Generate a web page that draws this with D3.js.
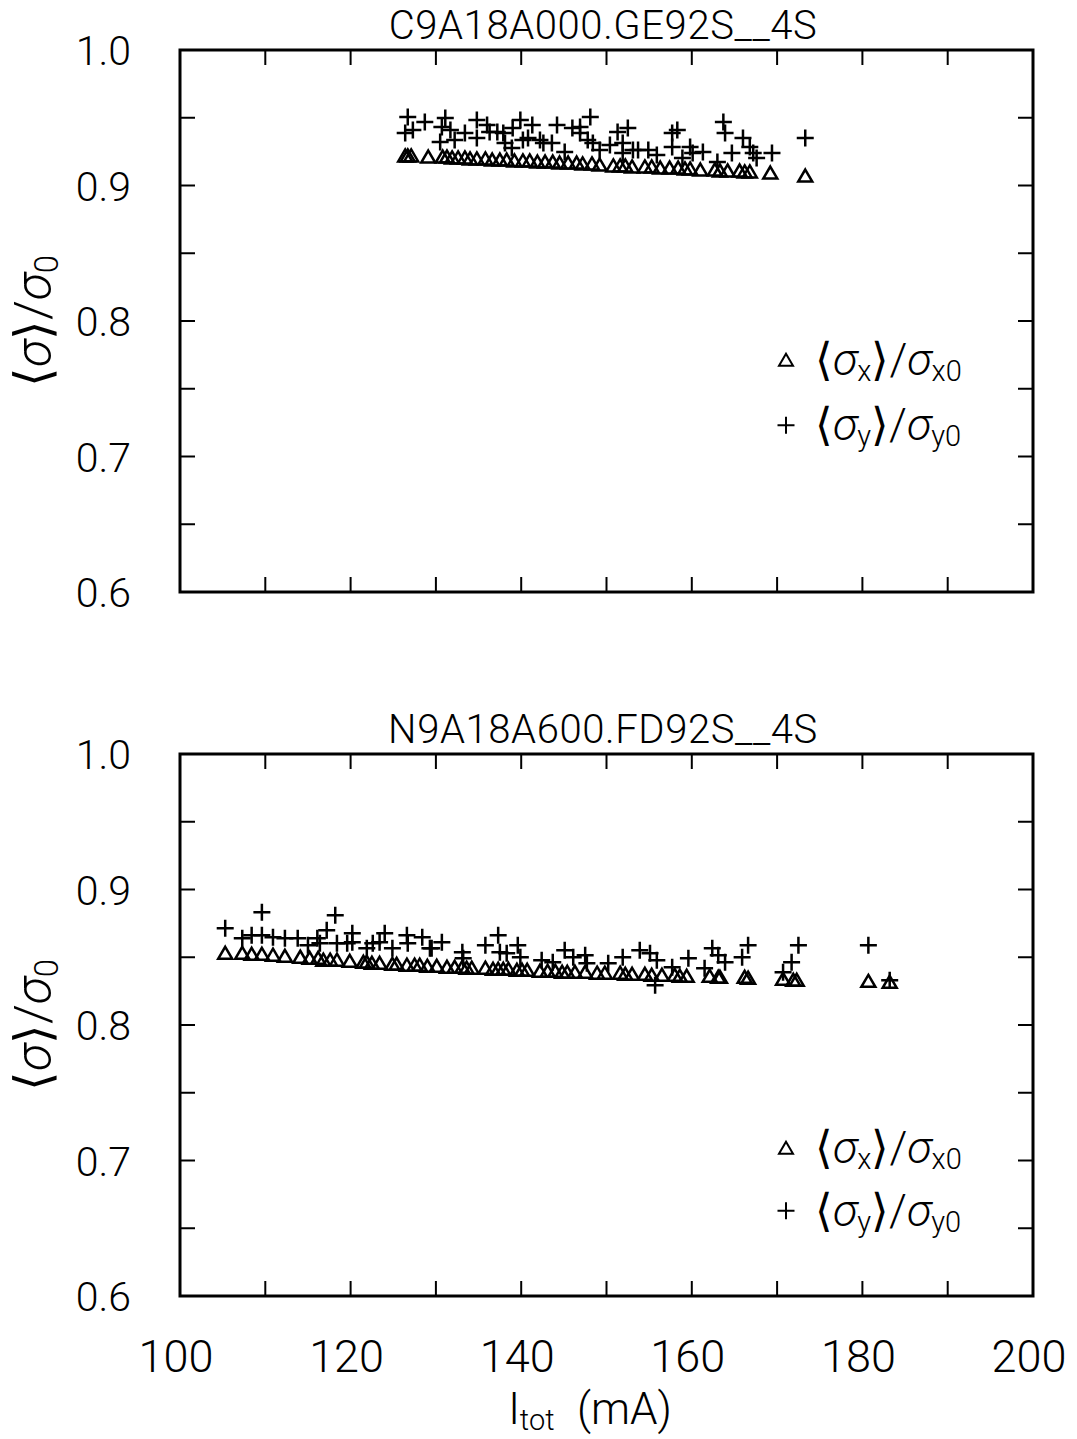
<!DOCTYPE html>
<html>
<head>
<meta charset="utf-8">
<script src="https://cdn.jsdelivr.net/npm/d3@7"></script>
<style>
  body { margin: 0; background: #fff; }
  text { font-family: Roboto, "DejaVu Sans", sans-serif; font-weight: 300; fill: #000; }
</style>
</head>
<body>
<script>
// panel titles
const titles = ["C9A18A000.GE92S__4S", "N9A18A600.FD92S__4S"];

// top panel: <sigma_x>/sigma_x0 (triangles)  [I_tot mA, ratio]
const topX = [
  [126.4,0.9218],[126.7,0.9218],[127.1,0.9218],[129.1,0.9210],[130.8,0.9210],[131.3,0.9210],
  [131.9,0.9203],[132.6,0.9203],[133.4,0.9203],[134.0,0.9196],[134.8,0.9196],[135.8,0.9196],
  [136.6,0.9188],[137.5,0.9188],[138.3,0.9188],[139.2,0.9181],[140.2,0.9181],[141.0,0.9181],
  [141.9,0.9173],[142.8,0.9173],[143.7,0.9173],[144.5,0.9166],[145.5,0.9166],[146.5,0.9166],
  [147.2,0.9159],[148.3,0.9159],[149.2,0.9151],[150.8,0.9144],[151.6,0.9144],[152.2,0.9144],
  [153.0,0.9137],[154.5,0.9137],[155.3,0.9137],[156.3,0.9129],[157.4,0.9129],[158.4,0.9129],
  [159.2,0.9122],[159.8,0.9122],[161.0,0.9114],[162.7,0.9114],[163.3,0.9107],[164.2,0.9107],
  [165.6,0.9107],[166.2,0.9100],[166.8,0.9100],[169.2,0.9092],[173.3,0.9070]
];

// top panel: <sigma_y>/sigma_y0 (pluses)
const topY = [
  [126.7,0.9506],[126.4,0.9387],[127.3,0.9410],[128.7,0.9469],[131.1,0.9498],[130.7,0.9432],
  [130.5,0.9321],[131.7,0.9410],[132.2,0.9336],[133.4,0.9387],[134.8,0.9483],[134.8,0.9351],
  [136.0,0.9446],[136.3,0.9395],[137.2,0.9395],[137.9,0.9387],[138.1,0.9314],[138.9,0.9277],
  [139.0,0.9424],[139.9,0.9483],[140.2,0.9336],[141.3,0.9446],[140.8,0.9351],[142.2,0.9336],
  [142.6,0.9314],[143.6,0.9314],[144.2,0.9446],[145.1,0.9247],[146.0,0.9424],[146.9,0.9432],
  [146.9,0.9387],[148.1,0.9506],[147.8,0.9336],[148.4,0.9314],[149.2,0.9262],[150.4,0.9299],
  [151.3,0.9395],[152.5,0.9424],[151.9,0.9314],[151.9,0.9240],[153.1,0.9262],[153.7,0.9262],
  [154.9,0.9262],[155.9,0.9225],[157.7,0.9387],[158.3,0.9410],[157.7,0.9284],[158.9,0.9203],
  [159.8,0.9284],[160.1,0.9240],[161.3,0.9247],[163.0,0.9173],[163.7,0.9469],[163.9,0.9387],
  [164.7,0.9240],[166.0,0.9351],[166.8,0.9284],[167.2,0.9240],[167.6,0.9203],[169.4,0.9240],
  [173.3,0.9351]
];

// bottom panel: <sigma_x>/sigma_x0 (triangles)
const botX = [
  [105.3,0.8529],[107.3,0.8529],[108.4,0.8522],[109.6,0.8522],[110.9,0.8515],[112.3,0.8507],
  [114.1,0.8500],[115.2,0.8492],[116.2,0.8492],[116.8,0.8478],[117.6,0.8478],[118.4,0.8478],
  [119.9,0.8470],[121.5,0.8463],[121.9,0.8463],[122.5,0.8455],[123.4,0.8455],[124.9,0.8448],
  [125.4,0.8448],[126.6,0.8441],[127.5,0.8441],[128.1,0.8441],[129.0,0.8433],[130.1,0.8433],
  [131.3,0.8426],[132.2,0.8426],[133.1,0.8426],[133.6,0.8419],[134.2,0.8419],[135.8,0.8419],
  [136.7,0.8411],[137.3,0.8411],[137.9,0.8411],[138.5,0.8411],[139.5,0.8404],[140.1,0.8404],
  [140.7,0.8404],[142.2,0.8396],[143.1,0.8396],[144.0,0.8396],[144.8,0.8389],[145.4,0.8389],
  [146.3,0.8389],[147.5,0.8389],[148.9,0.8382],[149.8,0.8382],[151.6,0.8382],[152.2,0.8374],
  [153.0,0.8374],[154.5,0.8374],[155.3,0.8367],[156.5,0.8367],[158.0,0.8367],[158.6,0.8359],
  [159.4,0.8359],[162.1,0.8359],[163.1,0.8352],[163.3,0.8352],[166.2,0.8352],[166.6,0.8345],
  [170.7,0.8337],[171.9,0.8330],[172.3,0.8330],[180.7,0.8322],[183.2,0.8315]
];

// bottom panel: <sigma_y>/sigma_y0 (pluses)
const botY = [
  [105.3,0.8714],[109.6,0.8832],[107.3,0.8640],[108.4,0.8662],[109.6,0.8662],[110.9,0.8648],
  [112.3,0.8640],[113.8,0.8640],[115.0,0.8588],[116.1,0.8640],[116.4,0.8603],[117.2,0.8699],
  [118.2,0.8810],[118.4,0.8603],[119.6,0.8603],[120.2,0.8677],[120.2,0.8611],[121.9,0.8566],
  [122.6,0.8603],[123.4,0.8611],[124.0,0.8677],[124.9,0.8566],[126.6,0.8662],[126.7,0.8603],
  [128.4,0.8648],[129.3,0.8566],[130.7,0.8611],[129.5,0.8566],[133.1,0.8537],[133.2,0.8492],
  [135.8,0.8588],[137.3,0.8662],[137.5,0.8537],[138.3,0.8529],[139.6,0.8588],[139.9,0.8500],
  [142.4,0.8478],[143.7,0.8463],[145.1,0.8552],[146.1,0.8500],[147.5,0.8515],[147.7,0.8455],
  [150.2,0.8455],[151.9,0.8500],[153.9,0.8552],[155.1,0.8529],[155.9,0.8478],[155.7,0.8293],
  [157.7,0.8426],[159.6,0.8492],[161.5,0.8419],[162.4,0.8566],[163.1,0.8515],[163.9,0.8463],
  [165.9,0.8500],[166.6,0.8588],[170.7,0.8389],[171.7,0.8463],[172.5,0.8588],[180.7,0.8588],
  [183.2,0.8330]
];

// legend row positions (axis units) for each panel
const legendRows = [[0.771, 0.723], [0.709, 0.663]];

const yTickLabels = [0.6, 0.7, 0.8, 0.9, 1.0];
const xTickLabels = [100, 120, 140, 160, 180, 200];

const width = 1077, height = 1439;
const left = 180, right = 1033;
const panelTops = [50, 754];
const panelH = 542;

const svg = d3.select("body").append("svg")
  .attr("width", width)
  .attr("height", height);

const x = d3.scaleLinear().domain([100, 200]).range([left, right]);

const panels = [
  { title: titles[0], tri: topX, plus: topY, legend: legendRows[0] },
  { title: titles[1], tri: botX, plus: botY, legend: legendRows[1] }
];

// marker shapes
const triPath = "M0,-6.5L7,5.5L-7,5.5Z";
const plusPath = "M-8.5,0H8.5M0,-8.5V8.5";

panels.forEach((p, i) => {
  const top = panelTops[i];
  const y = d3.scaleLinear().domain([0.6, 1.0]).range([top + panelH, top]);
  const g = svg.append("g");

  // ticks (inward, all four sides)
  const yTicks = d3.range(0.6, 1.0001, 0.05);
  const xTicks = d3.range(100, 200.001, 10);
  const tl = 15;
  g.selectAll(".ytl").data(yTicks).enter().append("line")
    .attr("x1", left).attr("x2", left + tl)
    .attr("y1", d => y(d)).attr("y2", d => y(d));
  g.selectAll(".ytr").data(yTicks).enter().append("line")
    .attr("x1", right).attr("x2", right - tl)
    .attr("y1", d => y(d)).attr("y2", d => y(d));
  g.selectAll(".xtb").data(xTicks).enter().append("line")
    .attr("x1", d => x(d)).attr("x2", d => x(d))
    .attr("y1", top + panelH).attr("y2", top + panelH - tl);
  g.selectAll(".xtt").data(xTicks).enter().append("line")
    .attr("x1", d => x(d)).attr("x2", d => x(d))
    .attr("y1", top).attr("y2", top + tl);
  g.selectAll("line").attr("stroke", "#000").attr("stroke-width", 2);

  // frame
  g.append("rect")
    .attr("x", left).attr("y", top)
    .attr("width", right - left).attr("height", panelH)
    .attr("fill", "none").attr("stroke", "#000").attr("stroke-width", 3);

  // y tick labels
  g.selectAll(".ylab").data(yTickLabels).enter().append("text")
    .attr("x", 131).attr("y", d => y(d) + 15)
    .attr("text-anchor", "end")
    .style("font-size", "41px")
    .text(d => d.toFixed(1));

  // title
  g.append("text")
    .attr("x", 603).attr("y", top - 11)
    .attr("text-anchor", "middle")
    .style("font-size", "40px")
    .style("letter-spacing", "0.6px")
    .text(p.title);

  // y axis label
  const yl = g.append("text")
    .attr("transform", `translate(50,${top + panelH / 2}) rotate(-90)`)
    .attr("text-anchor", "middle")
    .style("font-size", "50px");
  yl.append("tspan").text("\u27E8");
  yl.append("tspan").style("font-style", "italic").text("\u03C3");
  yl.append("tspan").text("\u27E9/");
  yl.append("tspan").style("font-style", "italic").text("\u03C3");
  yl.append("tspan").attr("baseline-shift", "-25%").style("font-size", "33px").text("0");

  // data
  g.selectAll(".tri").data(p.tri).enter().append("path")
    .attr("d", triPath)
    .attr("transform", d => `translate(${x(d[0])},${y(d[1])})`)
    .attr("fill", "none").attr("stroke", "#000").attr("stroke-width", 2.5);
  g.selectAll(".plus").data(p.plus).enter().append("path")
    .attr("d", plusPath)
    .attr("transform", d => `translate(${x(d[0])},${y(d[1])})`)
    .attr("fill", "none").attr("stroke", "#000").attr("stroke-width", 2.5);

  // legend
  const lgY = p.legend.map(v => y(v));
  g.append("path").attr("d", triPath)
    .attr("transform", `translate(786,${lgY[0]})`)
    .attr("fill", "none").attr("stroke", "#000").attr("stroke-width", 2);
  g.append("path").attr("d", plusPath)
    .attr("transform", `translate(786,${lgY[1]})`)
    .attr("fill", "none").attr("stroke", "#000").attr("stroke-width", 2);
  [["x", "x0"], ["y", "y0"]].forEach((s, k) => {
    const t = g.append("text")
      .attr("x", 815).attr("y", lgY[k] + 15)
      .style("font-size", "45px");
    t.append("tspan").text("\u27E8");
    t.append("tspan").style("font-style", "italic").text("\u03C3");
    t.append("tspan").attr("baseline-shift", "-22%").style("font-size", "29px").text(s[0]);
    t.append("tspan").text("\u27E9/");
    t.append("tspan").style("font-style", "italic").text("\u03C3");
    t.append("tspan").attr("baseline-shift", "-22%").style("font-size", "29px").text(s[1]);
  });
});

// x tick labels (bottom panel only)
svg.selectAll(".xlab").data(xTickLabels).enter().append("text")
  .attr("x", d => x(d) - 4).attr("y", 1372)
  .attr("text-anchor", "middle")
  .style("font-size", "45px")
  .text(d => d);

// x axis label
const xl = svg.append("text")
  .attr("x", 590).attr("y", 1424)
  .attr("text-anchor", "middle")
  .style("font-size", "44px");
xl.append("tspan").text("I");
xl.append("tspan").attr("dy", 6).style("font-size", "29px").text("tot");
xl.append("tspan").attr("dy", -6).text("\u2002(mA)");
</script>
</body>
</html>
